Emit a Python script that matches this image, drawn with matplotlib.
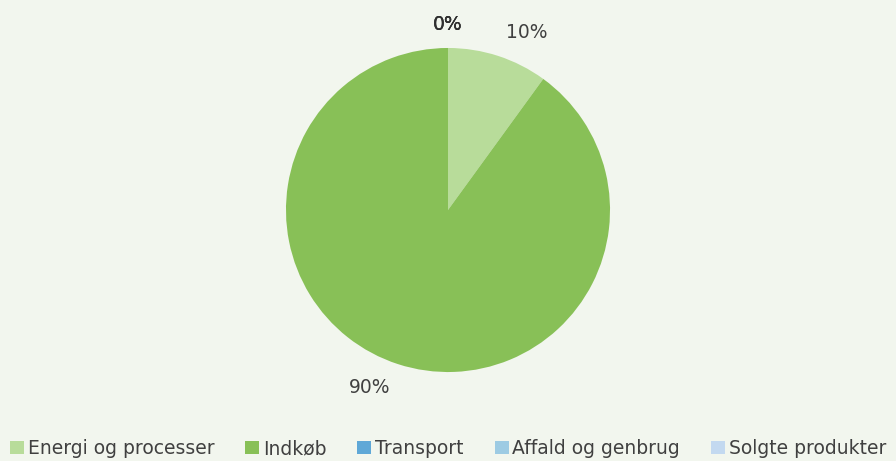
import numpy as np
import matplotlib.pyplot as plt

# data
categories = ["Energi og processer", "Indkøb", "Transport", "Affald og genbrug", "Solgte produkter"]
shares = [10, 90, 0, 0, 0]
colors = ["#b8dc9a", "#88c057", "#5fa8d7", "#9dcbe3", "#c3d9f0"]

bg = "#f2f6ee"
fig = plt.figure(figsize=(8.96, 4.61), dpi=100, facecolor=bg)
ax = fig.add_axes([0, 0, 1, 1])
ax.set_facecolor(bg)

wedges, _ = ax.pie(shares, colors=colors, startangle=90, counterclock=False,
                   radius=1.0, wedgeprops=dict(linewidth=0))
ax.set_aspect("equal")
ax.set_xlim(-2.765, 2.765)
ax.set_ylim(-1.549, 1.296)

# percentage labels outside the pie
total = sum(shares)
for w, v in zip(wedges, shares):
    ang = np.deg2rad((w.theta1 + w.theta2) / 2)
    c, s = np.cos(ang), np.sin(ang)
    if v == 0:
        ax.text(0, 1.142, "0%", ha="center", va="center", fontsize=13.5, color="#303030")
        continue
    ax.text(1.15 * c, 1.15 * s, f"{round(100 * v / total)}%",
            ha="left" if c > 0 else "right", va="center", fontsize=13.5, color="#404040")

leg = fig.legend(wedges, categories, loc="lower center", ncol=5, frameon=False,
                 fontsize=13.5, handlelength=0.75, handleheight=0.75, handletextpad=0.2,
                 columnspacing=1.65, bbox_to_anchor=(0.5, -0.03))
for t in leg.get_texts():
    t.set_color("#404040")

fig.savefig("out.png", dpi=100, facecolor=bg)
